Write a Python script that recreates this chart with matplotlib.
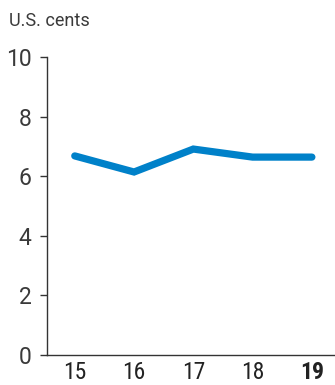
import matplotlib
matplotlib.use("Agg")
import matplotlib.pyplot as plt

years = [15, 16, 17, 18, 19]
year_labels = ["15", "16", "17", "18", "19"]
values = [6.68, 6.14, 6.91, 6.64, 6.64]
y_ticks = [0, 2, 4, 6, 8, 10]
unit_label = "U.S. cents"

fig = plt.figure(figsize=(3.35, 3.85), dpi=100)
ax = fig.add_axes([0.140, 0.078, 0.860, 0.774])

ax.plot(years, values, color="#0081c9", linewidth=5.2, solid_capstyle="round",
        solid_joinstyle="miter")

ax.set_xlim(14.53, 19.39)
ax.set_ylim(0, 10)
ax.set_yticks(y_ticks)
ax.set_yticklabels([str(t) for t in y_ticks], fontsize=16.5, color="#3a3a3a",
                   family="Roboto")
ax.set_xticks(years)
ax.set_xticklabels(year_labels, fontsize=17, color="#222222",
                   family="Roboto Condensed")
ax.get_xticklabels()[-1].set_fontweight("bold")

ax.tick_params(axis="y", length=5, width=1, color="#333333", pad=6)
ax.tick_params(axis="x", length=0, pad=4)

for side in ("top", "right"):
    ax.spines[side].set_visible(False)
for side in ("left", "bottom"):
    ax.spines[side].set_color("#333333")
    ax.spines[side].set_linewidth(1.0)

fig.text(0.027, 0.932, unit_label, fontsize=13, color="#3a3a3a",
         family="Roboto", va="baseline")

fig.savefig("out.png", dpi=100)
